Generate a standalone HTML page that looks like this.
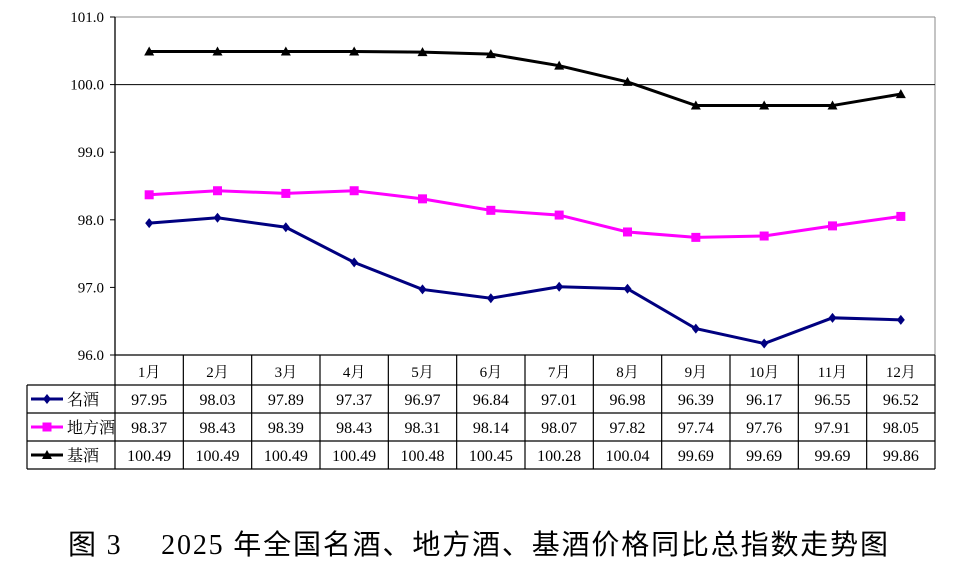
<!DOCTYPE html>
<html><head><meta charset="utf-8"><style>
body{margin:0;background:#fff;width:956px;height:565px;overflow:hidden}
svg{display:block}
svg text{font-family:"Liberation Serif","Noto Serif CJK SC",serif;}
</style></head><body>
<svg width="956" height="565">
<g id="g"></g>
<text x="68" y="554" font-size="28" textLength="820" lengthAdjust="spacing" style="font-family:'Liberation Serif','Noto Sans CJK SC',sans-serif">图 3　 2025 年全国名酒、地方酒、基酒价格同比总指数走势图</text>
</svg>
<script>
const months=["1月","2月","3月","4月","5月","6月","7月","8月","9月","10月","11月","12月"];
const seriesNames=["名酒","地方酒","基酒"];
const mingjiu=[97.95,98.03,97.89,97.37,96.97,96.84,97.01,96.98,96.39,96.17,96.55,96.52];
const difangjiu=[98.37,98.43,98.39,98.43,98.31,98.14,98.07,97.82,97.74,97.76,97.91,98.05];
const jijiu=[100.49,100.49,100.49,100.49,100.48,100.45,100.28,100.04,99.69,99.69,99.69,99.86];
const yTicks=[96,97,98,99,100,101];
const NS="http://www.w3.org/2000/svg";
const g=document.getElementById('g');
const L=115,R=935,T=17,B=355,colW=(R-L)/12;
const FF="'Liberation Serif','Noto Serif CJK SC',serif";
const x=i=>L+colW*(i+0.5);
const y=v=>B-(v-96)/5*(B-T);
function el(t,a,p){const e=document.createElementNS(NS,t);for(const k in a)e.setAttribute(k,a[k]);if(t=='text')e.setAttribute('font-family',FF);(p||g).appendChild(e);return e;}
let e;
e=el('line',{x1:L,y1:T,x2:R,y2:T,stroke:'#888','stroke-width':1});


e=el('line',{x1:R,y1:T,x2:R,y2:B,stroke:'#888','stroke-width':1});


e=el('line',{x1:L,y1:y(100),x2:R,y2:y(100),stroke:'#000','stroke-width':1});


e=el('line',{x1:L,y1:T,x2:L,y2:B,stroke:'#000','stroke-width':1.3});


yTicks.forEach(v=>{
 const t=el('line',{x1:L-5,y1:y(v),x2:L,y2:y(v),stroke:'#000'});
 
 
 const lb=el('text',{x:104,y:y(v)+5,'text-anchor':'end','font-size':15});
 lb.textContent=v.toFixed(1);
 
 
});
const rows=[355,385,413,441,469];
for(let i=0;i<rows.length;i++){
 const x1=i==0?L:27;
 const ln=el('line',{x1:x1,y1:rows[i],x2:R,y2:rows[i],stroke:'#000','stroke-width':1.2});
 
 
}
let vl=el('line',{x1:27,y1:385,x2:27,y2:469,stroke:'#000','stroke-width':1.2});


for(let i=0;i<=12;i++){
 const c=el('line',{x1:L+colW*i,y1:355,x2:L+colW*i,y2:469,stroke:'#000','stroke-width':1.2});
 
 
}
months.forEach((m,i)=>{
 const t=el('text',{x:x(i),y:377,'text-anchor':'middle','font-size':15});
 t.textContent=m;
 
 
});
const colors=['#000080','#ff00ff','#000000'];
const data=[mingjiu,difangjiu,jijiu];
function marker(k,cx,cy,p){
 let m;
 if(k==0)m=el('polygon',{points:`${cx},${cy-5} ${cx+4},${cy} ${cx},${cy+5} ${cx-4},${cy}`,fill:colors[k]},p);
 else if(k==1)m=el('rect',{x:cx-4.5,y:cy-4.5,width:9,height:9,fill:colors[k]},p);
 else m=el('polygon',{points:`${cx},${cy-5} ${cx+5},${cy+4} ${cx-5},${cy+4}`,fill:colors[k]},p);
 return m;
}
data.forEach((arr,k)=>{
 const gp=el('g',{});
 
 
 const pl=el('polyline',{points:arr.map((v,i)=>x(i)+','+y(v)).join(' '),fill:'none',stroke:colors[k],'stroke-width':3},gp);
 
 
 arr.forEach((v,i)=>{
  const m=marker(k,x(i),y(v),gp);
  
  
 });
 const ry=(rows[k+1]+rows[k+2])/2;
 const ll=el('line',{x1:31,y1:ry,x2:63,y2:ry,stroke:colors[k],'stroke-width':3});
 
 
 const lm=marker(k,47,ry,g);
 
 
 const ln=el('text',{x:67,y:ry+6,'font-size':16});
 ln.textContent=seriesNames[k];
 
 
 arr.forEach((v,i)=>{
  const t=el('text',{x:x(i),y:ry+6,'text-anchor':'middle','font-size':16});
  t.textContent=v.toFixed(2);
  
  
 });
});
</script>
</body></html>
